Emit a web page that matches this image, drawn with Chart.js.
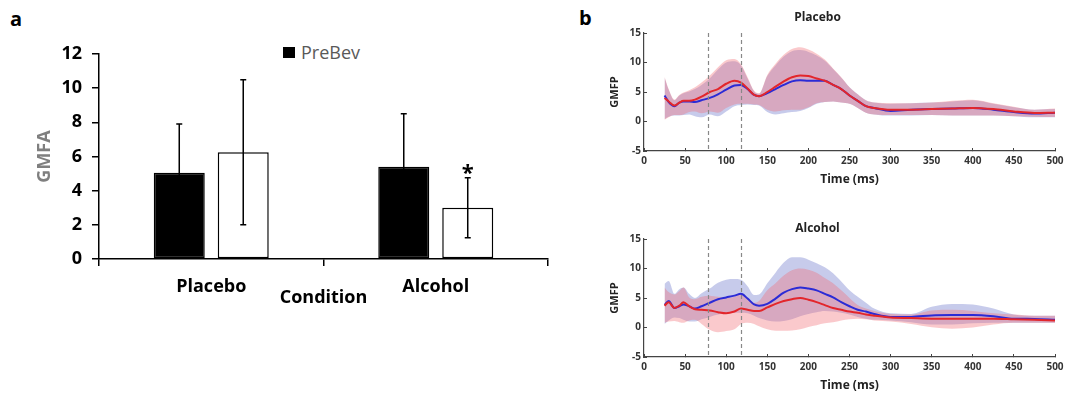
<!DOCTYPE html>
<html>
<head>
<meta charset="utf-8">
<script src="https://cdn.jsdelivr.net/npm/chart.js@4/dist/chart.umd.min.js"></script>
<style>
  body{margin:0;background:#fff;width:1075px;height:393px;overflow:hidden;position:relative;font-family:"Open Sans",sans-serif;}
  canvas{position:absolute;}
  .panel{position:absolute;font-weight:bold;font-size:20px;color:#000;}
  #legendA{position:absolute;left:283px;top:41px;height:22px;display:flex;align-items:center;font-size:18px;color:#595959;}
  #legendA span.box{display:inline-block;width:12px;height:11px;background:#000;margin-right:6px;}
</style>
</head>
<body>
<div class="panel" style="left:10px;top:5px;">a</div>
<div class="panel" style="left:579px;top:4px;">b</div>
<div id="legendA"><span class="box"></span>PreBev</div>
<canvas id="barChart" width="575" height="393" style="left:0;top:0;width:575px;height:393px;"></canvas>
<canvas id="placeboChart" width="495" height="187" style="left:580px;top:0;width:495px;height:187px;"></canvas>
<canvas id="alcoholChart" width="495" height="187" style="left:580px;top:206px;width:495px;height:187px;"></canvas>
<script>
// ---- panel a data ----
const conditions=["Placebo","Alcohol"];
const preBev=[5.05,5.4];
const preErr=[2.85,3.1];
const postBev=[6.25,3.0];
const postErr=[4.25,1.75];
const postSig=["","*"];

// ---- panel b data (GMFP, time in ms) ----
const times=[25,30,37,43,48,55,62,70,80,90,100,110,118,126,134,140,150,160,170,180,190,200,210,220,230,240,250,260,270,280,300,325,350,375,400,425,450,475,500];
const markers=[78,118];

const placeboRed=[4.0,3.4,2.7,3.2,3.5,3.5,3.7,4.2,5.0,5.5,6.4,6.9,6.6,5.6,4.5,4.3,5.0,5.9,6.8,7.5,7.8,7.7,7.3,6.9,6.2,5.5,4.4,3.5,2.6,2.3,2.0,2.0,2.1,2.2,2.3,2.1,1.7,1.45,1.5];
const placeboBlue=[4.4,3.3,2.6,3.2,3.4,3.4,3.3,3.6,4.0,4.6,5.4,6.1,6.2,5.5,4.5,4.3,4.8,5.5,6.2,6.8,7.0,6.9,6.9,6.9,6.2,5.5,4.4,3.5,2.6,2.3,1.8,2.0,2.1,2.2,2.3,2.0,1.6,1.35,1.5];
const placeboRedHi=[7.6,5.5,3.7,4.5,4.9,5.3,5.8,6.6,7.8,9.2,10.4,10.6,9.7,7.5,5.2,4.8,7.9,9.8,11.3,12.3,12.6,12.2,11.5,10.5,9.0,7.5,5.8,4.6,3.6,3.2,3.1,3.1,3.2,3.5,3.7,3.1,2.5,2.0,2.2];
const placeboRedLo=[0.3,0.7,1.1,1.1,1.2,1.6,1.7,1.4,1.7,1.5,2.3,2.9,3.0,3.0,2.9,2.8,2.0,1.7,1.9,2.0,2.0,2.4,3.1,3.3,3.4,3.2,3.0,2.3,1.5,1.2,1.1,1.1,1.1,1.0,1.0,1.0,0.9,0.8,0.75];
const placeboBlueHi=[7.4,5.4,3.6,4.4,4.8,5.1,5.5,6.2,7.3,8.8,10.0,10.2,9.5,7.3,5.1,4.7,7.7,9.5,11.0,11.9,12.1,11.8,11.2,10.3,8.9,7.4,5.8,4.6,3.6,3.2,3.0,3.1,3.2,3.4,3.6,3.0,2.4,2.0,2.1];
const placeboBlueLo=[0.4,0.8,1.0,1.0,1.1,1.2,0.9,0.7,1.2,0.9,1.7,2.6,2.8,2.9,2.8,2.7,1.6,1.2,1.4,1.6,1.8,2.3,3.0,3.3,3.4,3.2,3.0,2.3,1.5,1.2,1.0,1.0,1.1,1.0,1.0,1.0,0.9,0.7,0.7];

const alcoholRed=[3.7,4.3,3.3,3.7,4.3,3.6,3.1,3.0,2.9,2.6,2.4,2.7,3.2,3.0,2.8,2.8,3.4,4.0,4.5,4.8,5.0,4.7,4.3,3.8,3.3,3.0,2.7,2.5,2.2,2.0,1.7,1.6,1.5,1.5,1.5,1.5,1.4,1.3,1.2];
const alcoholBlue=[3.8,4.5,3.3,3.6,3.9,3.6,3.2,3.6,4.2,4.8,5.1,5.4,5.7,4.9,3.9,3.7,4.0,4.9,5.9,6.5,6.8,6.6,6.3,5.7,5.1,4.3,3.6,3.0,2.7,2.3,1.8,1.8,2.05,2.1,2.1,1.9,1.5,1.45,1.3];
const alcoholRedHi=[6.8,6.0,5.6,6.2,6.8,5.1,4.8,5.2,5.4,5.2,5.0,5.2,5.7,5.0,4.2,4.5,6.3,7.5,8.8,9.7,10.0,9.8,9.3,8.4,7.5,6.3,5.0,3.8,3.2,2.8,2.3,2.2,2.9,3.0,2.8,2.4,2.2,2.0,2.0];
const alcoholRedLo=[0.8,1.0,1.1,0.9,0.8,1.2,1.3,0.6,-0.4,-0.8,-0.6,-0.3,0.6,0.8,0.6,0.2,-0.3,-0.55,-0.55,-0.5,-0.3,0.1,0.4,0.7,0.9,1.2,1.4,1.5,1.4,1.2,1.0,0.6,0.05,-0.2,0.0,0.5,0.8,0.8,0.8];
const alcoholBlueHi=[7.4,7.9,5.7,6.5,6.8,5.7,5.0,5.8,6.6,7.6,8.1,8.2,8.1,7.0,5.5,5.6,7.5,9.3,11.0,11.9,11.9,11.5,10.9,10.2,9.2,7.8,6.3,5.2,4.2,3.2,2.4,2.3,3.5,4.0,3.9,3.2,2.2,2.0,2.0];
const alcoholBlueLo=[0.6,1.2,1.7,1.6,1.3,1.0,1.0,1.4,1.8,2.2,2.4,2.5,2.5,2.4,2.0,1.6,1.2,1.0,1.1,1.4,1.9,2.3,2.6,2.8,2.7,2.5,2.2,1.8,1.5,1.3,1.2,0.9,0.5,0.5,0.7,0.8,0.8,0.8,0.8];

const RED="#e3262b", BLUE="#2b2bd6";
const RED_BAND="rgba(240,105,115,0.36)", BLUE_BAND="rgba(100,110,200,0.36)";

// error bars + significance star for panel a
const errorBars={
  id:"errorBars",
  afterDatasetsDraw(chart){
    const ctx=chart.ctx, y=chart.scales.y;
    const errs=[preErr,postErr];
    chart.data.datasets.forEach((ds,di)=>{
      chart.getDatasetMeta(di).data.forEach((bar,i)=>{
        const v=ds.data[i], e=errs[di][i];
        const hi=y.getPixelForValue(v+e), lo=y.getPixelForValue(v-e);
        ctx.save();
        ctx.strokeStyle="#000";ctx.lineWidth=1.5;
        ctx.beginPath();
        ctx.moveTo(bar.x,lo);ctx.lineTo(bar.x,hi);
        ctx.moveTo(bar.x-3,hi);ctx.lineTo(bar.x+3,hi);
        ctx.moveTo(bar.x-3,lo);ctx.lineTo(bar.x+3,lo);
        ctx.stroke();
        if(di===1 && postSig[i]){
          ctx.fillStyle="#000";ctx.font="bold 22px 'Open Sans'";
          ctx.textAlign="center";ctx.textBaseline="alphabetic";
          ctx.fillText(postSig[i],bar.x,hi+2);
        }
        ctx.restore();
      });
    });
  }
};

new Chart(document.getElementById("barChart"),{
  type:"bar",
  data:{
    labels:conditions,
    datasets:[
      {label:"PreBev",data:preBev,backgroundColor:"#000",borderColor:"#000",borderWidth:1.5,borderSkipped:false,categoryPercentage:0.57,barPercentage:0.797},
      {label:"PostBev",data:postBev,backgroundColor:"#fff",borderColor:"#000",borderWidth:1.5,borderSkipped:false,categoryPercentage:0.57,barPercentage:0.797}
    ]
  },
  options:{
    responsive:false,animation:false,devicePixelRatio:1,events:[],
    layout:{padding:{left:25,right:27,top:54,bottom:84}},
    plugins:{legend:{display:false},tooltip:{enabled:false}},
    scales:{
      x:{
        offset:true,
        grid:{drawOnChartArea:false,offset:true,tickLength:7,color:"#000",lineWidth:1.5},
        border:{color:"#000",width:1.5},
        ticks:{font:{family:"Open Sans",size:18,weight:"bold"},color:"#000",padding:10},
        title:{display:true,text:"Condition",font:{family:"Open Sans",size:18,weight:"bold"},color:"#000",padding:{top:0,bottom:0}},
        afterFit(s){s.height=50;}
      },
      y:{
        min:0,max:12,
        grid:{drawOnChartArea:false,tickLength:7,color:"#000",lineWidth:1.5},
        border:{color:"#000",width:1.5},
        ticks:{stepSize:2,font:{family:"Open Sans",size:18,weight:"bold"},color:"#000",padding:10},
        title:{display:true,text:"GMFA",font:{family:"Open Sans",size:18,weight:"bold"},color:"#7f7f7f",padding:{top:9,bottom:0}},
        afterFit(s){s.width=74;}
      }
    }
  },
  plugins:[errorBars]
});

// dashed vertical markers for panel b
const markerLines={
  id:"markerLines",
  afterDatasetsDraw(chart){
    const ctx=chart.ctx, x=chart.scales.x, a=chart.chartArea;
    ctx.save();
    ctx.strokeStyle="#888";ctx.lineWidth=1.2;ctx.setLineDash([4,3]);
    markers.forEach(m=>{
      const px=Math.round(x.getPixelForValue(m))+0.5;
      ctx.beginPath();ctx.moveTo(px,a.top);ctx.lineTo(px,a.bottom);ctx.stroke();
    });
    ctx.restore();
  }
};

function pts(arr){return times.map((t,i)=>({x:t,y:arr[i]}));}
function bandSet(arr,color,fill){
  return {data:pts(arr),borderWidth:0,borderColor:"rgba(0,0,0,0)",backgroundColor:color,pointRadius:0,fill:fill,cubicInterpolationMode:"monotone"};
}
function meanSet(arr,color){
  return {data:pts(arr),borderWidth:2,borderColor:color,pointRadius:0,fill:false,cubicInterpolationMode:"monotone"};
}

function gmfpChart(id,title,titlePad,red,blue,redHi,redLo,blueHi,blueLo){
  const tickFont={family:"Open Sans",size:10,weight:"bold"};
  return new Chart(document.getElementById(id),{
    type:"line",
    data:{datasets:[
      meanSet(red,RED),
      meanSet(blue,BLUE),
      bandSet(redHi,RED_BAND,"+1"),
      bandSet(redLo,RED_BAND,false),
      bandSet(blueHi,BLUE_BAND,"+1"),
      bandSet(blueLo,BLUE_BAND,false)
    ]},
    options:{
      responsive:false,animation:false,devicePixelRatio:1,events:[],
      layout:{padding:{left:0,right:20,top:0,bottom:0}},
      plugins:{
        legend:{display:false},tooltip:{enabled:false},
        title:{display:true,text:title,font:{family:"Open Sans",size:12,weight:"bold"},color:"#222",padding:titlePad}
      },
      scales:{
        x:{
          type:"linear",min:0,max:500,
          grid:{drawOnChartArea:false,tickLength:-3,color:"#444"},
          border:{color:"#444",width:1.2},
          ticks:{stepSize:50,font:tickFont,color:"#333",padding:7,maxRotation:0},
          title:{display:true,text:"Time (ms)",font:{family:"Open Sans",size:12,weight:"bold"},color:"#222",padding:{top:0,bottom:0}},
          afterFit(s){s.height=36;}
        },
        y:{
          min:-5,max:15,
          grid:{drawOnChartArea:false,tickLength:-3,color:"#444"},
          border:{color:"#444",width:1.2},
          ticks:{stepSize:5,font:tickFont,color:"#333",padding:6},
          title:{display:true,text:"GMFP",font:{family:"Open Sans",size:11,weight:"bold"},color:"#222",padding:{top:28,bottom:0}},
          afterFit(s){s.width=64;}
        }
      }
    },
    plugins:[markerLines]
  });
}

gmfpChart("placeboChart","Placebo",{top:10,bottom:8.6},placeboRed,placeboBlue,placeboRedHi,placeboRedLo,placeboBlueHi,placeboBlueLo);
gmfpChart("alcoholChart","Alcohol",{top:15,bottom:3.6},alcoholRed,alcoholBlue,alcoholRedHi,alcoholRedLo,alcoholBlueHi,alcoholBlueLo);
</script>
</body>
</html>
